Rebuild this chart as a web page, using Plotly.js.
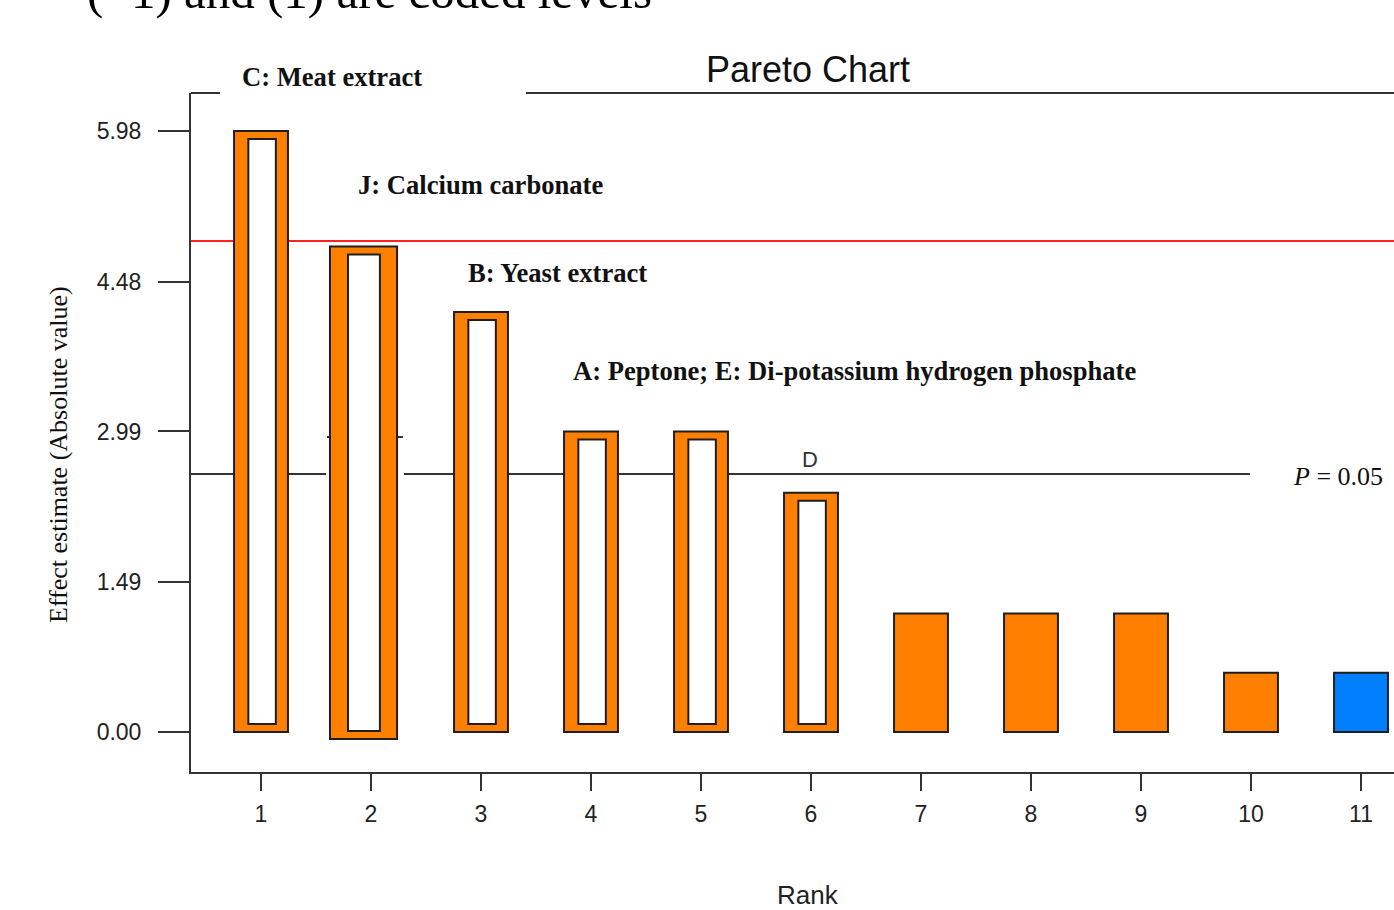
<!DOCTYPE html>
<html>
<head>
<meta charset="utf-8">
<script src="https://cdn.plot.ly/plotly-3.0.1.min.js"></script>
<style>html,body{margin:0;padding:0;background:#fff;}#chart{width:1394px;height:910px;}</style>
</head>
<body>
<div id="chart"></div>
<script>
// ---- data ----
const ranks = [1, 2, 3, 4, 5, 6, 7, 8, 9, 10, 11];
const effects = [5.98, 4.83, 4.18, 2.99, 2.99, 2.38, 1.18, 1.18, 1.18, 0.59, 0.59];
const significant = [true, true, true, true, true, true, false, false, false, false, false];
const signs = ['+', '+', '+', '+', '+', '+', '+', '+', '+', '+', '-'];
const yTickVals = [0, 1.49, 2.99, 4.48, 5.98];
const yTickText = ['0.00', '1.49', '2.99', '4.48', '5.98'];
const xTickText = ['1', '2', '3', '4', '5', '6', '7', '8', '9', '10', '11'];
const bonferroniLimit = 4.886;
const tLimit = 2.567;
const labels = ['C: Meat extract', 'J: Calcium carbonate', 'B: Yeast extract',
                'A: Peptone; E: Di-potassium hydrogen phosphate', 'D'];

// ---- styling ----
const ORANGE = '#FF8000', BLUE = '#0080FF', EDGE = '#1e1e1e', AX = '#333333';
const outerBase = ranks.map((r, i) => i === 1 ? -0.07 : 0);
const outerW = ranks.map((r, i) => i === 1 ? 0.61 : 0.49);
const outerOff = ranks.map((r, i) => i === 1 ? -0.373 : -0.245);

const outer = {
  type: 'bar', x: ranks, y: effects.map((v, i) => v - outerBase[i]), base: outerBase,
  width: outerW, offset: outerOff,
  marker: { color: signs.map(s => s === '+' ? ORANGE : BLUE), line: { color: EDGE, width: 2 } },
  hoverinfo: 'x+y', showlegend: false
};
const hx = [], hy = [], hb = [], hw = [], ho = [];
ranks.forEach((r, i) => {
  if (!significant[i]) return;
  const w = i === 1 ? 0.29 : 0.25;
  hx.push(r); hb.push(outerBase[i] + 0.08); hy.push(effects[i] - outerBase[i] - 0.16);
  hw.push(w); ho.push(i === 1 ? -0.209 : -w / 2 + 0.01);
});
const inner = {
  type: 'bar', x: hx, y: hy, base: hb, width: hw, offset: ho,
  marker: { color: '#ffffff', line: { color: EDGE, width: 2 } },
  hoverinfo: 'skip', showlegend: false
};

const serif = 'Liberation Serif, Times New Roman, serif';
const sans = 'Liberation Sans, Arial, sans-serif';
const boldFont = { family: serif, size: 26.6, color: '#111' };
const PX = px => (px - 191) / 1203;   // pixel -> paper x
const PY = py => (772 - py) / 679;    // pixel -> paper y

const layout = {
  width: 1394, height: 910,
  margin: { l: 191, r: 0, t: 93, b: 138 },
  paper_bgcolor: '#fff', plot_bgcolor: '#fff',
  barmode: 'overlay',
  title: { text: 'Pareto Chart', font: { family: sans, size: 36, color: '#111' },
           x: 808 / 1394, xanchor: 'center', xref: 'container', y: 1 - 69 / 910, yanchor: 'middle', yref: 'container' },
  xaxis: {
    range: [0.3636, 11.3], tickvals: ranks, ticktext: xTickText,
    ticks: 'outside', ticklen: 17, tickwidth: 2, tickcolor: AX,
    showline: true, linewidth: 2, linecolor: AX, showgrid: false, zeroline: false,
    tickfont: { family: sans, size: 23, color: '#222' }, ticklabelstandoff: 3
  },
  yaxis: {
    range: [-0.398, 6.358], tickvals: yTickVals, ticktext: yTickText,
    ticks: 'outside', ticklen: 31, tickwidth: 2, tickcolor: AX,
    showline: true, linewidth: 2, linecolor: AX, showgrid: false, zeroline: false,
    tickfont: { family: sans, size: 23, color: '#222' }, ticklabelstandoff: 12
  },
  shapes: [
    { type: 'line', xref: 'paper', yref: 'y', x0: 0, x1: 1, y0: bonferroniLimit, y1: bonferroniLimit,
      line: { color: '#FF2020', width: 2 }, layer: 'below' },
    { type: 'line', xref: 'x', yref: 'y', x0: 0.3636, x1: 1.591, y0: tLimit, y1: tLimit,
      line: { color: AX, width: 2 }, layer: 'below' },
    { type: 'line', xref: 'x', yref: 'y', x0: 2.30, x1: 9.99, y0: tLimit, y1: tLimit,
      line: { color: AX, width: 2 }, layer: 'below' },
    { type: 'line', xref: 'x', yref: 'y', x0: 1.60, x1: 2.29, y0: 2.935, y1: 2.935,
      line: { color: AX, width: 2 }, layer: 'below' },
    { type: 'line', xref: 'paper', yref: 'paper', x0: 0, x1: PX(220), y0: 1, y1: 1,
      line: { color: AX, width: 2 } },
    { type: 'line', xref: 'paper', yref: 'paper', x0: PX(526), x1: 1, y0: 1, y1: 1,
      line: { color: AX, width: 2 } }
  ],
  annotations: [
    { text: '(\u22121) and (1) are coded levels', xref: 'paper', yref: 'paper', x: PX(85), y: PY(21),
      xanchor: 'left', yanchor: 'bottom', showarrow: false, font: { family: serif, size: 49, color: '#000' } },
    { text: '<b>' + labels[0] + '</b>', xref: 'paper', yref: 'paper', x: PX(240), y: PY(77), xanchor: 'left', yanchor: 'middle', showarrow: false, font: boldFont },
    { text: '<b>' + labels[1] + '</b>', xref: 'paper', yref: 'paper', x: PX(356), y: PY(185), xanchor: 'left', yanchor: 'middle', showarrow: false, font: boldFont },
    { text: '<b>' + labels[2] + '</b>', xref: 'paper', yref: 'paper', x: PX(466), y: PY(273), xanchor: 'left', yanchor: 'middle', showarrow: false, font: boldFont },
    { text: '<b>' + labels[3] + '</b>', xref: 'paper', yref: 'paper', x: PX(571), y: PY(371), xanchor: 'left', yanchor: 'middle', showarrow: false, font: boldFont },
    { text: labels[4], xref: 'paper', yref: 'paper', x: PX(810), y: PY(459), xanchor: 'center', yanchor: 'middle', showarrow: false,
      font: { family: sans, size: 22, color: '#333' } },
    { text: '<i>P</i> = 0.05', xref: 'paper', yref: 'paper', x: PX(1291), y: PY(476), xanchor: 'left', yanchor: 'middle', showarrow: false,
      font: { family: serif, size: 26, color: '#111' } },
    { text: 'Effect estimate (Absolute value)', xref: 'paper', yref: 'paper', x: PX(58), y: PY(455),
      xanchor: 'center', yanchor: 'middle', textangle: -90, showarrow: false, font: { family: serif, size: 26, color: '#111' } },
    { text: 'Rank', xref: 'paper', yref: 'paper', x: PX(808), y: PY(895),
      xanchor: 'center', yanchor: 'middle', showarrow: false, font: { family: sans, size: 26, color: '#222' } }
  ]
};

Plotly.newPlot('chart', [outer, inner], layout, { staticPlot: true, displayModeBar: false });
</script>
</body>
</html>
